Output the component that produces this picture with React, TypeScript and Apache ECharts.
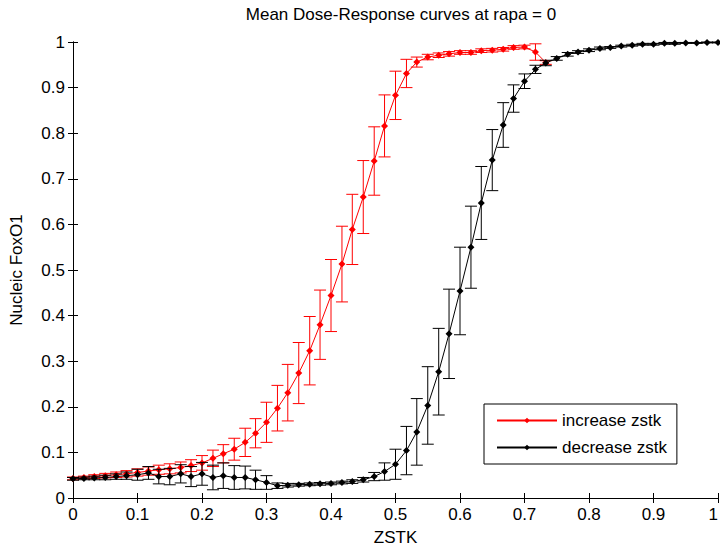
import React, { useEffect, useRef } from "react";
import * as echarts from "echarts";

const zstk = [
  0, 0.017, 0.033, 0.05, 0.067, 0.083, 0.1, 0.117, 0.133, 0.15, 0.167, 0.183, 0.2, 0.217, 0.233,
  0.25, 0.267, 0.283, 0.3, 0.317, 0.333, 0.35, 0.367, 0.383, 0.4, 0.417, 0.433, 0.45, 0.467,
  0.483, 0.5, 0.517, 0.533, 0.55, 0.567, 0.583, 0.6, 0.617, 0.633, 0.65, 0.667, 0.683, 0.7,
  0.717, 0.733, 0.75, 0.767, 0.783, 0.8, 0.817, 0.833, 0.85, 0.867, 0.883, 0.9, 0.917, 0.933,
  0.95, 0.967, 0.983, 1,
];

const increaseMean = [
  0.043, 0.045, 0.047, 0.049, 0.051, 0.053, 0.056, 0.059, 0.062, 0.064, 0.067, 0.071, 0.077,
  0.087, 0.097, 0.107, 0.122, 0.142, 0.166, 0.197, 0.231, 0.274, 0.323, 0.38, 0.444, 0.513,
  0.589, 0.66, 0.739, 0.816, 0.883, 0.931, 0.956, 0.967, 0.971, 0.974, 0.977, 0.977, 0.981,
  0.982, 0.984, 0.988, 0.989, 0.978, 0.955,
];
const increaseErr = [
  0.003, 0.003, 0.004, 0.005, 0.006, 0.007, 0.008, 0.009, 0.01, 0.011, 0.012, 0.013, 0.016,
  0.018, 0.02, 0.024, 0.031, 0.032, 0.044, 0.05, 0.062, 0.067, 0.075, 0.076, 0.079, 0.083,
  0.077, 0.08, 0.075, 0.068, 0.053, 0.031, 0.011, 0.006, 0.005, 0.005, 0.004, 0.004, 0.004,
  0.004, 0.004, 0.004, 0.004, 0.018, 0.004,
];

const decreaseMean = [
  0.042, 0.043, 0.044, 0.045, 0.047, 0.049, 0.051, 0.055, 0.047, 0.047, 0.053, 0.047, 0.053,
  0.045, 0.049, 0.045, 0.045, 0.04, 0.034, 0.027, 0.028, 0.029, 0.03, 0.031, 0.032, 0.034,
  0.036, 0.04, 0.047, 0.058, 0.074, 0.104, 0.145, 0.203, 0.277, 0.36, 0.454, 0.55, 0.647,
  0.741, 0.818, 0.876, 0.914, 0.94, 0.954, 0.964, 0.973, 0.978, 0.982, 0.986, 0.988, 0.991,
  0.993, 0.995, 0.995, 0.997, 0.997, 0.998, 0.998, 0.999, 0.999,
];
const decreaseErr = [
  0.003, 0.003, 0.004, 0.005, 0.006, 0.008, 0.012, 0.014, 0.016, 0.018, 0.02, 0.022, 0.025,
  0.027, 0.028, 0.026, 0.025, 0.021, 0.015, 0.006, 0.004, 0.003, 0.003, 0.003, 0.003, 0.003,
  0.004, 0.005, 0.009, 0.019, 0.033, 0.053, 0.073, 0.085, 0.095, 0.098, 0.096, 0.09, 0.08,
  0.067, 0.049, 0.03, 0.016, 0.009, 0.006, 0.004, 0.004, 0.003, 0.003, 0.003, 0.002, 0.002,
  0.002, 0.002, 0.002, 0.002, 0.002, 0.001, 0.001, 0.001, 0.001,
];

const xTicks = [0, 0.1, 0.2, 0.3, 0.4, 0.5, 0.6, 0.7, 0.8, 0.9, 1];

const FONT = "'Liberation Sans', Arial, sans-serif";

function errorSeries(mean: number[], err: number[], color: string, z: number) {
  const data = mean.map((m, i) => [zstk[i], m - err[i], m + err[i]]);
  return {
    type: "custom",
    z,
    silent: true,
    clip: false,
    renderItem: (params: any, api: any) => {
      const x = api.value(0);
      const lo = api.coord([x, api.value(1)]);
      const hi = api.coord([x, api.value(2)]);
      const cap = 6;
      const style = { stroke: color, lineWidth: 1 };
      return {
        type: "group",
        children: [
          { type: "line", shape: { x1: lo[0], y1: lo[1], x2: hi[0], y2: hi[1] }, style },
          { type: "line", shape: { x1: lo[0] - cap, y1: lo[1], x2: lo[0] + cap, y2: lo[1] }, style },
          { type: "line", shape: { x1: hi[0] - cap, y1: hi[1], x2: hi[0] + cap, y2: hi[1] }, style },
        ],
      };
    },
    data,
  };
}

export default function App() {
  const ref = useRef<HTMLDivElement>(null);
  useEffect(() => {
    if (!ref.current) return;
    const chart = echarts.init(ref.current, undefined, { renderer: "svg" });
    const axisLine = { show: true, lineStyle: { color: "#000", width: 1 } };
    const axisTick = { show: true, inside: true, length: 5, lineStyle: { color: "#000" } };
    chart.setOption({
      animation: false,
      backgroundColor: "#fff",
      title: {
        text: "Mean Dose-Response curves at rapa = 0",
        left: 396,
        textAlign: "center",
        top: 1,
        textStyle: { fontFamily: FONT, fontSize: 17, fontWeight: "normal", color: "#000" },
      },
      grid: {
        left: 73,
        right: 2,
        top: 42,
        bottom: 53,
        containLabel: false,
        outerBoundsMode: "none",
      },
      legend: {
        data: ["increase zstk", "decrease zstk"],
        orient: "vertical",
        left: 484,
        top: 404,
        padding: [8, 10, 8, 12],
        itemWidth: 60,
        itemHeight: 7,
        itemGap: 10,
        borderColor: "#000",
        borderWidth: 1,
        backgroundColor: "#fff",
        textStyle: { fontFamily: FONT, fontSize: 17, color: "#000" },
      },
      xAxis: [
        {
          type: "value",
          min: 0,
          max: 1,
          interval: 0.1,
          name: "ZSTK",
          nameLocation: "middle",
          nameGap: 31,
          nameTextStyle: { fontFamily: FONT, fontSize: 17, color: "#000" },
          axisLine,
          axisTick,
          splitLine: { show: false },
          axisLabel: {
            fontFamily: FONT,
            fontSize: 17,
            color: "#000",
            margin: 8,
            customValues: xTicks,
            alignMaxLabel: "right",
          },
        },
        {
          type: "value",
          position: "top",
          min: 0,
          max: 1,
          interval: 0.1,
          axisLine,
          axisTick,
          axisLabel: { show: false },
          splitLine: { show: false },
        },
      ],
      yAxis: [
        {
          type: "value",
          min: 0,
          max: 1,
          interval: 0.1,
          name: "Nucleic FoxO1",
          nameLocation: "middle",
          nameGap: 48,
          nameTextStyle: { fontFamily: FONT, fontSize: 17, color: "#000" },
          axisLine,
          axisTick,
          splitLine: { show: false },
          axisLabel: { fontFamily: FONT, fontSize: 17, color: "#000", margin: 8 },
        },
        {
          type: "value",
          position: "right",
          min: 0,
          max: 1,
          interval: 0.1,
          axisLine,
          axisTick,
          axisLabel: { show: false },
          splitLine: { show: false },
        },
      ],
      series: [
        errorSeries(increaseMean, increaseErr, "#ff0000", 2),
        {
          name: "increase zstk",
          type: "line",
          z: 3,
          data: increaseMean.map((m, i) => [zstk[i], m]),
          symbol: "diamond",
          symbolSize: 7,
          itemStyle: { color: "#ff0000" },
          lineStyle: { color: "#ff0000", width: 1 },
        },
        errorSeries(decreaseMean, decreaseErr, "#000000", 4),
        {
          name: "decrease zstk",
          type: "line",
          z: 5,
          data: decreaseMean.map((m, i) => [zstk[i], m]),
          symbol: "diamond",
          symbolSize: 7,
          itemStyle: { color: "#000000" },
          lineStyle: { color: "#000000", width: 1 },
        },
      ],
    });
    return () => chart.dispose();
  }, []);
  return (
    <div
      ref={ref}
      style={{ position: "fixed", left: 0, top: 0, width: 720, height: 551, background: "#fff" }}
    />
  );
}
